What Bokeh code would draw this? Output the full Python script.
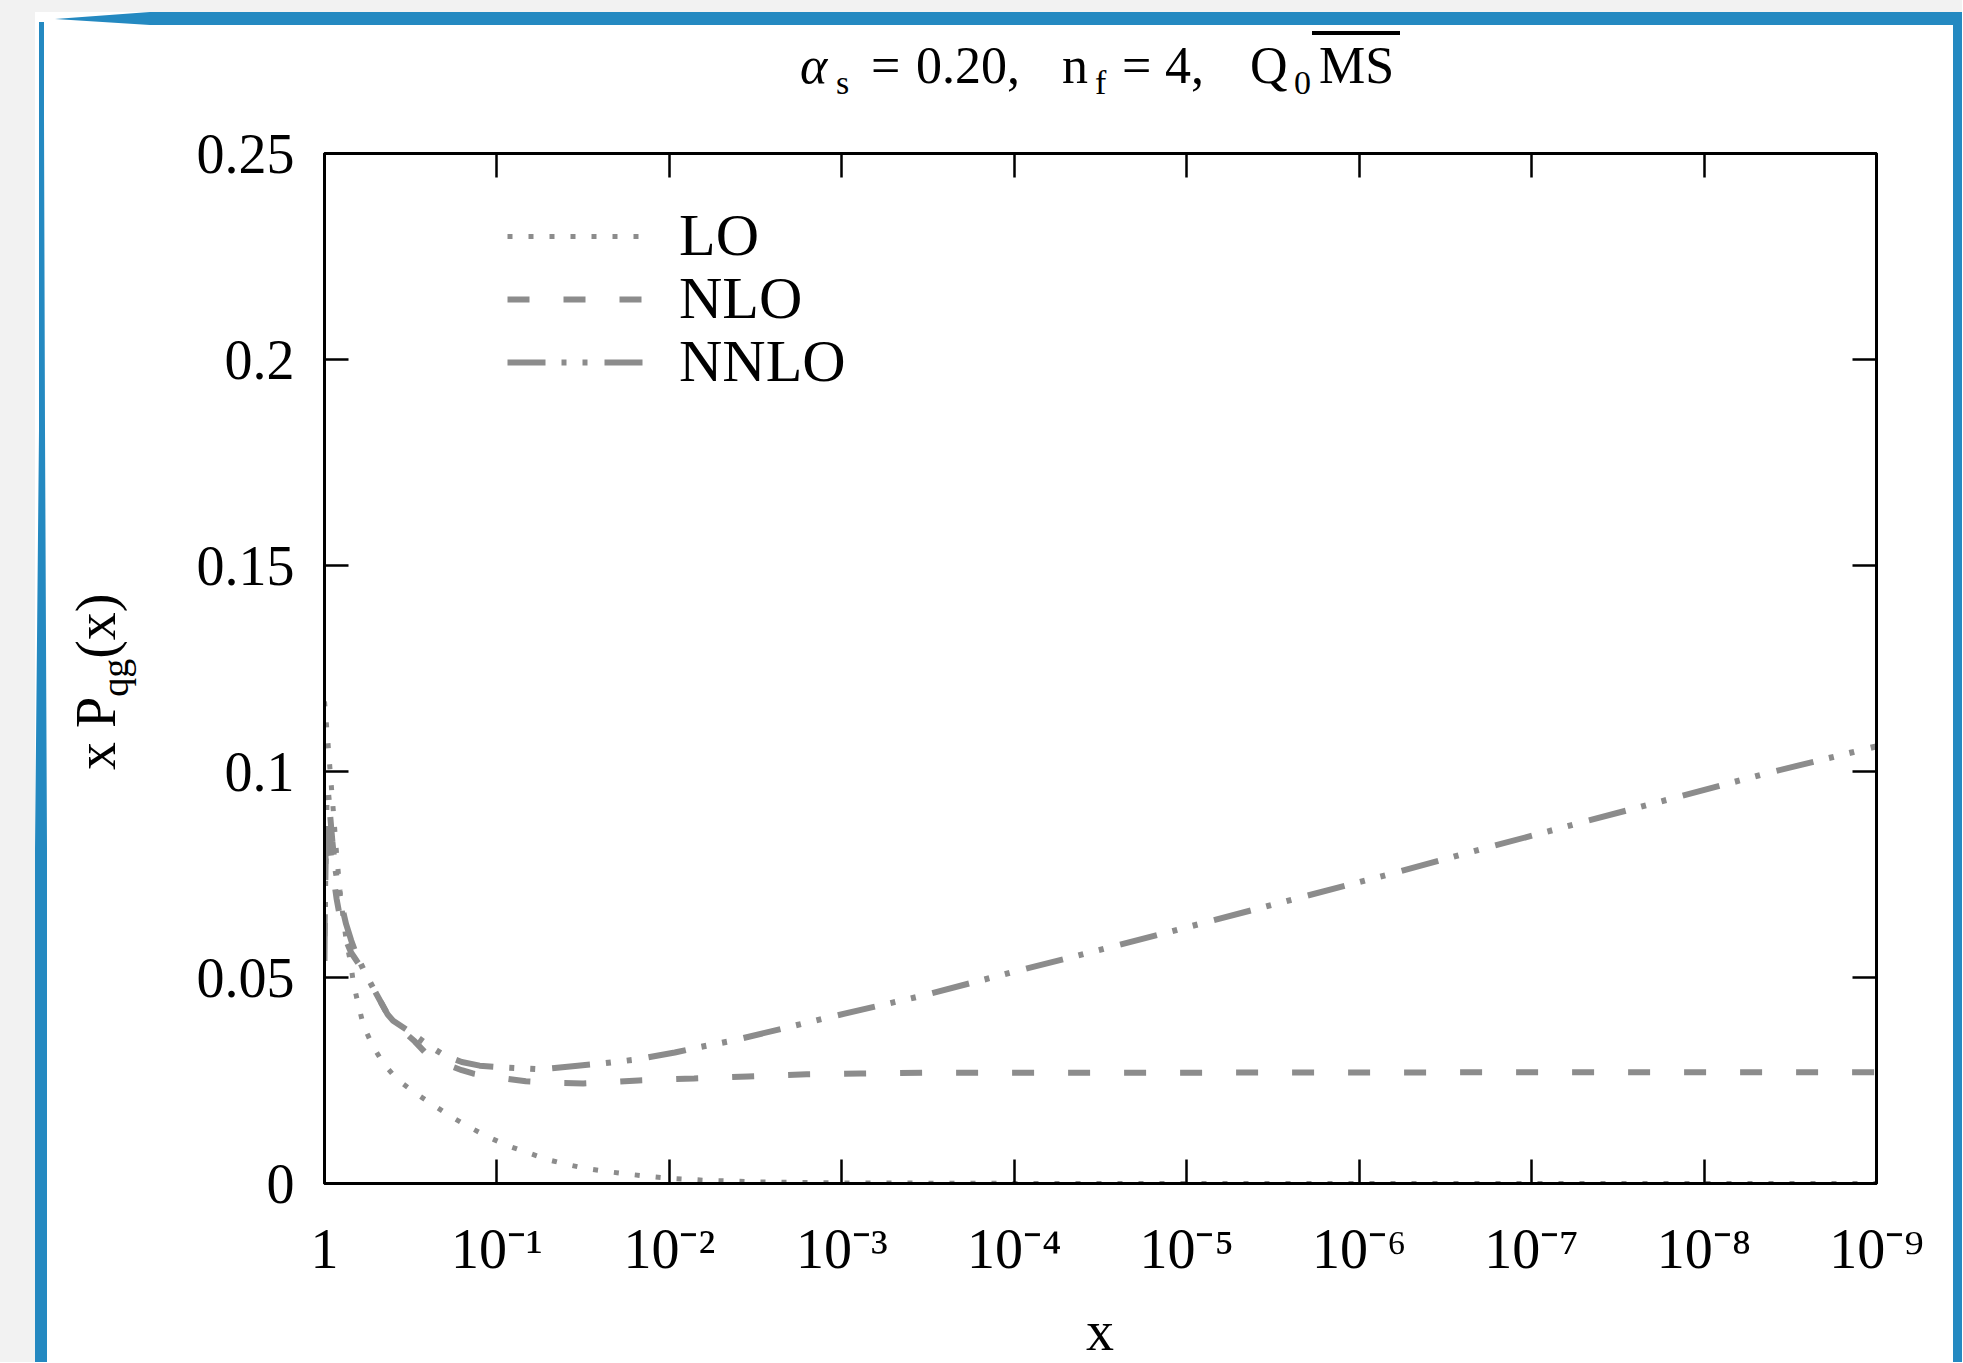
import math
from bokeh.plotting import figure
from bokeh.models import (Range1d, FixedTicker, LogAxis, LinearAxis, Legend, LegendItem, Div)
from bokeh.layouts import column, row
from bokeh.embed import file_html
from bokeh.resources import INLINE

# ---------------- data ----------------
x_ticks = [1, 1e-1, 1e-2, 1e-3, 1e-4, 1e-5, 1e-6, 1e-7, 1e-8, 1e-9]
x_tick_labels = ["1", "10⁻¹", "10⁻²", "10⁻³", "10⁻⁴", "10⁻⁵", "10⁻⁶", "10⁻⁷", "10⁻⁸", "10⁻⁹"]
y_ticks = [0, 0.05, 0.1, 0.15, 0.2, 0.25]
y_tick_labels = ["0", "0.05", "0.1", "0.15", "0.2", "0.25"]

lo_x = [1.0, 0.977, 0.955, 0.923, 0.891, 0.851, 0.813, 0.776, 0.745, 0.706, 0.679,
        0.635, 0.594, 0.527, 0.455, 0.378, 0.301, 0.237, 0.186, 0.146, 0.114,
        0.0869, 0.0665, 0.0509, 0.039, 0.0299, 0.0229, 0.0168, 0.0129, 0.00955,
        0.00631, 0.00316, 1e-3, 1e-4, 1e-5, 1e-7, 1e-9]
lo_y = [0.117, 0.112, 0.107, 0.099, 0.091, 0.080, 0.071, 0.0638, 0.0585, 0.0536, 0.0485,
        0.0432, 0.0383, 0.0335, 0.0291, 0.0252, 0.0221, 0.0192, 0.0163, 0.0138, 0.0114,
        0.0092, 0.0075, 0.0058, 0.0046, 0.0036, 0.0029, 0.0022, 0.0017, 0.0012,
        0.0008, 0.0004, 0.00015, 0.00002, 0.0, 0.0, 0.0]

nlo_x = [1.0, 0.985, 0.97, 0.95, 0.92, 0.89, 0.85, 0.8, 0.75, 0.7, 0.65, 0.58, 0.5,
         0.43, 0.4, 0.35, 0.3, 0.245, 0.2, 0.16, 0.138, 0.1, 0.068, 0.045, 0.0316,
         0.022, 0.0151, 0.0072, 0.0035, 0.0016, 7.8e-4, 3e-4, 1e-4, 1e-5, 1e-7, 1e-9]
nlo_y = [0.060, 0.078, 0.086, 0.085, 0.080, 0.075, 0.069, 0.063, 0.059, 0.056, 0.054,
         0.051, 0.046, 0.041, 0.039, 0.037, 0.0345, 0.0306, 0.029, 0.0275, 0.0267,
         0.0257, 0.0248, 0.0244, 0.0243, 0.0246, 0.025, 0.0255, 0.026, 0.0265, 0.0267,
         0.0269, 0.0269, 0.0269, 0.027, 0.027]

nnlo_x = [1.0, 0.99, 0.975, 0.955, 0.93, 0.9, 0.87, 0.84, 0.8, 0.75, 0.7, 0.66, 0.58,
          0.5, 0.43, 0.4, 0.3, 0.25, 0.2, 0.16, 0.126, 0.093, 0.056, 0.034, 0.025,
          0.0155, 0.0093, 0.0069, 0.00427, 0.0012, 3.4e-4, 9.8e-5, 2.8e-5, 7.9e-6,
          2.3e-6, 6.5e-7, 2.1e-7, 5.4e-8, 1.55e-8, 4.4e-9, 1e-9]
nnlo_y = [0.054, 0.075, 0.092, 0.095, 0.090, 0.083, 0.077, 0.073, 0.068, 0.063, 0.059,
          0.056, 0.051, 0.046, 0.041, 0.0395, 0.036, 0.0335, 0.031, 0.0295, 0.0286,
          0.0282, 0.0277, 0.0286, 0.0291, 0.0301, 0.0318, 0.033, 0.0347, 0.0403,
          0.0456, 0.0515, 0.0573, 0.0633, 0.0692, 0.0752, 0.0808, 0.0874, 0.0934,
          0.0995, 0.1061]

series_names = ["LO", "NLO", "NNLO"]

# ---------------- styling ----------------
FONT = "Liberation Serif"
GRAY = "#8c8c8c"
BLUE = "#2489c1"
LIGHT = "#f2f2f2"

TOTAL_W, TOTAL_H = 1962, 1362
TOP_H = 118          # title strip
LEFT_W = 168         # y-label strip
RIGHT_W = 9          # right decoration strip
BOT_H = 62           # x-label strip
MID_H = TOTAL_H - TOP_H - BOT_H
FIG_W = TOTAL_W - LEFT_W - RIGHT_W

p = figure(width=FIG_W, height=MID_H, x_axis_type="log",
           x_range=Range1d(1, 1e-9), y_range=Range1d(0, 0.25),
           output_backend="svg", toolbar_location=None,
           min_border_left=156, min_border_right=77,
           min_border_top=35, min_border_bottom=117, margin=0)
p.title.visible = False
p.grid.visible = False
p.background_fill_color = "white"
p.border_fill_color = "white"
p.outline_line_color = "black"
p.outline_line_width = 3

def style_axis(ax, show_labels):
    ax.axis_line_width = 3
    ax.axis_line_color = "black"
    ax.major_tick_in = 24
    ax.major_tick_out = 0
    ax.major_tick_line_width = 2.5
    ax.major_tick_line_color = "black"
    ax.minor_tick_line_color = None
    ax.major_label_text_font = FONT
    if show_labels:
        ax.major_label_text_font_size = "56px"
        ax.major_label_text_color = "black"
    else:
        ax.major_label_text_font_size = "1px"
        ax.major_label_text_color = None
        ax.major_label_standoff = 0

xax = p.xaxis[0]
xax.ticker = FixedTicker(ticks=x_ticks)
xax.major_label_overrides = {t: l for t, l in zip(x_ticks, x_tick_labels)}
style_axis(xax, True)
xax.major_label_standoff = 34

yax = p.yaxis[0]
yax.ticker = FixedTicker(ticks=y_ticks)
yax.major_label_overrides = {t: l for t, l in zip(y_ticks, y_tick_labels)}
style_axis(yax, True)
yax.major_label_standoff = 30

top_ax = LogAxis(ticker=FixedTicker(ticks=x_ticks))
style_axis(top_ax, False)
p.add_layout(top_ax, "above")
right_ax = LinearAxis(ticker=FixedTicker(ticks=y_ticks))
style_axis(right_ax, False)
p.add_layout(right_ax, "right")

# ---------------- curves ----------------
r_lo = p.line(lo_x, lo_y, line_color=GRAY, line_width=5, line_dash="5 16")
r_nlo = p.line(nlo_x, nlo_y, line_color=GRAY, line_width=6, line_dash="22 34")
r_nnlo = p.line(nnlo_x, nnlo_y, line_color=GRAY, line_width=6, line_dash="38 16 5 16 5 17")

# one legend per entry so the row pitch matches the reference
for name, rend, yloc in zip(series_names, [r_lo, r_nlo, r_nnlo], [913, 850, 787]):
    p.add_layout(Legend(items=[LegendItem(label=name, renderers=[rend])],
                        location=(183, yloc), orientation="vertical",
                        glyph_width=138, glyph_height=20, label_standoff=34,
                        label_text_font=FONT, label_text_font_size="60px",
                        label_text_color="black", spacing=0, padding=0, margin=0,
                        border_line_color=None, background_fill_alpha=0))

# ---------------- surrounding strips (HTML text + decoration) ----------------
def span(text, left, top, size, italic=False, lh=None):
    st = "font-style:italic;" if italic else ""
    lh = size if lh is None else lh
    return (f'<span style="position:absolute;left:{left}px;top:{top}px;'
            f'font-family:\'{FONT}\';font-size:{size}px;line-height:{lh}px;'
            f'white-space:nowrap;color:#000;{st}">{text}</span>')

def box_html(w, h, shapes, texts=""):
    svg = (f'<svg xmlns="http://www.w3.org/2000/svg" width="{w}" height="{h}" '
           f'style="position:absolute;left:0;top:0">{shapes}</svg>')
    return (f'<div style="position:relative;width:{w}px;height:{h}px;overflow:hidden;'
            f'margin:0;padding:0">{svg}{texts}</div>')

def rect(x, y, w, h, c):
    return f'<rect x="{x}" y="{y}" width="{w}" height="{h}" fill="{c}"/>'

def polyg(pts, c, dy=0):
    s = " ".join(f"{x},{y - dy}" for x, y in pts)
    return f'<polygon points="{s}" fill="{c}"/>'

# title strip (page y 0..TOP_H)
MB = 40   # top of main-size line boxes (baseline ~81)
SB = 66   # top of subscript line boxes (baseline ~93)
title_texts = "".join([
    span("α", 800, MB, 52, italic=True),
    span("s", 836, SB, 34),
    span("=", 871, MB, 52),
    span("0.20,", 916, MB, 52),
    span("n", 1062, MB, 52),
    span("f", 1095, SB, 34),
    span("=", 1122, MB, 52),
    span("4,", 1165, MB, 52),
    span("Q", 1250, MB, 52),
    span("0", 1294, SB, 34),
    span("MS", 1319, MB, 52),
])
title_shapes = "".join([
    rect(0, 0, TOTAL_W, 12, LIGHT),
    rect(0, 0, 35, TOP_H, LIGHT),
    polyg([(55, 19), (150, 12), (TOTAL_W, 12), (TOTAL_W, 25), (150, 25)], BLUE),
    rect(39, 22, 5, TOP_H - 22, BLUE),
    rect(1953, 12, TOTAL_W - 1953, TOP_H - 12, BLUE),
    rect(1312, 31, 88, 4, "#000"),
])
title_div = Div(text=box_html(TOTAL_W, TOP_H, title_shapes, title_texts),
                width=TOTAL_W, height=TOP_H, margin=0)

# left strip (page y TOP_H..TOP_H+MID_H)
ylab = ('<div style="position:absolute;left:68px;top:652px;transform:rotate(-90deg);'
        f'transform-origin:0 0;font-family:\'{FONT}\';font-size:56px;line-height:56px;'
        'white-space:nowrap;color:#000">x P<span style="font-size:38px;position:relative;'
        'top:13px">qg</span>(x)</div>')
left_shapes = "".join([
    rect(0, 0, 35, MID_H, LIGHT),
    polyg([(39, 118), (44, 118), (45, 430), (47, 850), (47, 1400), (35, 1400),
           (35, 850), (39, 430)], BLUE, dy=TOP_H),
])
left_div = Div(text=box_html(LEFT_W, MID_H, left_shapes, ylab),
               width=LEFT_W, height=MID_H, margin=0)

right_div = Div(text=box_html(RIGHT_W, MID_H, rect(0, 0, RIGHT_W, MID_H, BLUE)),
                width=RIGHT_W, height=MID_H, margin=0)

# bottom strip with the x-axis title
bot_shapes = "".join([
    rect(0, 0, 35, BOT_H, LIGHT),
    rect(35, 0, 12, BOT_H, BLUE),
    rect(1953, 0, TOTAL_W - 1953, BOT_H, BLUE),
])
bot_text = span("x", 1086, 3, 56)
bot_div = Div(text=box_html(TOTAL_W, BOT_H, bot_shapes, bot_text),
              width=TOTAL_W, height=BOT_H, margin=0)

layout = column(title_div, row(left_div, p, right_div, spacing=0, margin=0),
                bot_div, spacing=0, margin=0)

open("out.html", "w").write(file_html(layout, INLINE))
